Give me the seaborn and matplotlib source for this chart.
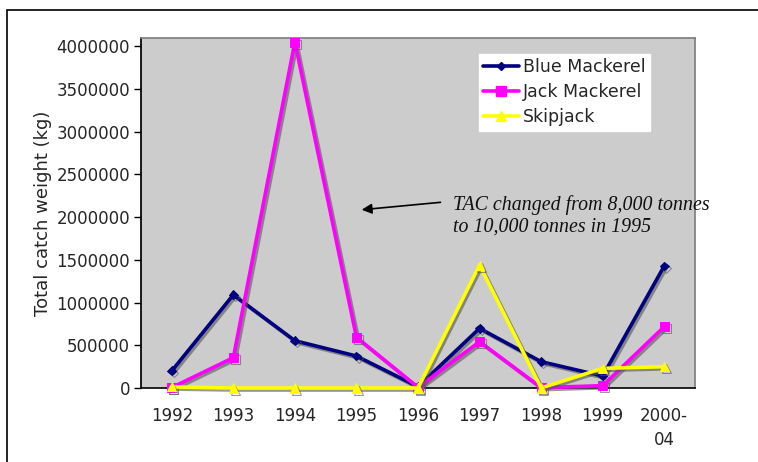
import numpy as np
import pandas as pd
import matplotlib
matplotlib.use("Agg")
import matplotlib.pyplot as plt
import matplotlib.patheffects as pe
from matplotlib.lines import Line2D
from matplotlib.patches import Rectangle
import seaborn as sns

years = ["1992", "1993", "1994", "1995", "1996", "1997", "1998", "1999", "2000-\n04"]
blue_mackerel = [200000, 1090000, 553000, 374000, 15000, 698000, 308000, 140000, 1427000]
jack_mackerel = [5000, 355000, 4047000, 593000, 8000, 542000, 5000, 27000, 717000]
skipjack = [12000, 0, 0, 0, 0, 1438000, 0, 230000, 249000]

series = ["Blue Mackerel", "Jack Mackerel", "Skipjack"]
colors = ["#000080", "#FF00FF", "#FFFF00"]
markers = ["D", "s", "^"]
msizes = [4.5, 6.5, 6.5]

df = pd.DataFrame({"pos": np.arange(len(years)),
                   "Blue Mackerel": blue_mackerel,
                   "Jack Mackerel": jack_mackerel,
                   "Skipjack": skipjack})

sns.set_theme(style="white")
plt.rcParams["font.family"] = ["DejaVu Sans"]

fig = plt.figure(figsize=(7.58, 4.62), dpi=100)
ax = fig.add_axes([141 / 758, 1 - 388 / 462, 554 / 758, 350 / 462])
ax.set_facecolor("#CCCCCC")

# outer chart frame
fig.patches.append(Rectangle((7 / 758, -0.1), 1.2, 1 - 10 / 462 + 0.1,
                             transform=fig.transFigure, fill=False,
                             edgecolor="black", linewidth=1.2))

shadow = [pe.SimpleLineShadow(offset=(1.5, -1.5), shadow_color="#555555", alpha=0.6), pe.Normal()]
for name, c, m, ms in zip(series, colors, markers, msizes):
    sns.lineplot(data=df, x="pos", y=name, ax=ax, color=c, marker=m, markersize=ms,
                 markeredgecolor=c, linewidth=2.6, path_effects=shadow, legend=False,
                 clip_on=False, zorder=3)

ax.set_xlim(-0.5, len(years) - 0.5)
ax.set_ylim(0, 4094000)
ax.set_yticks(np.arange(0, 4000001, 500000))
ax.set_yticklabels([str(v) for v in range(0, 4000001, 500000)], fontsize=12)
ax.set_xticks(np.arange(len(years)))
ax.set_xticklabels(years, fontsize=12, va="top", linespacing=1.4)
ax.set_xticks(np.arange(-0.5, len(years), 1), minor=True)
ax.tick_params(axis="x", which="major", length=0, pad=14)
ax.tick_params(axis="x", which="minor", length=5, width=1, color="black", direction="out")
ax.tick_params(axis="y", length=5, width=1, color="black", direction="out", left=True, pad=3)
ax.set_xlabel("")
ax.set_ylabel("Total catch weight (kg)", fontsize=13, labelpad=3)

for s in ["top", "right"]:
    ax.spines[s].set_color("#808080")
ax.spines["left"].set_color("black")
ax.spines["bottom"].set_color("black")
ax.spines["bottom"].set_linewidth(1.2)

handles = [Line2D([0], [0], color=c, marker=m, markersize=ms, linewidth=2.6, markeredgecolor=c)
           for c, m, ms in zip(colors, markers, msizes)]
leg = ax.legend(handles, series, loc="upper left", bbox_to_anchor=(0.61, 0.954),
                fontsize=12.5, frameon=True, fancybox=False, framealpha=1,
                edgecolor="white", handlelength=2.05, handletextpad=0.25,
                borderpad=0.25, labelspacing=0.4, borderaxespad=0)
leg.set_zorder(5)

ax.annotate("", xy=(3.04, 2082000), xytext=(4.41, 2175000),
            arrowprops=dict(arrowstyle="-|>", color="black", lw=1.2, mutation_scale=15))
ax.text(4.57, 2012000, "TAC changed from 8,000 tonnes\nto 10,000 tonnes in 1995",
        fontsize=14.3, fontstyle="italic", family=["Liberation Serif"], va="center",
        ha="left", linespacing=1.15, color="#111111")

fig.savefig("out.png", dpi=100)
